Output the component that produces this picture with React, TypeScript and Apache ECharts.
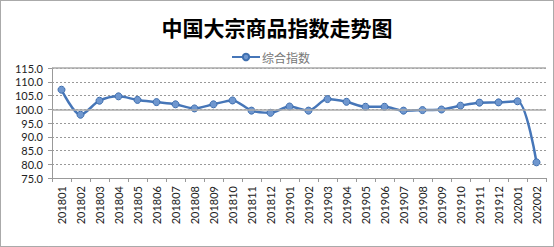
import React, { useEffect, useRef } from "react";
import * as echarts from "echarts";

const categories = [
  "201801", "201802", "201803", "201804", "201805", "201806", "201807", "201808", "201809", "201810", "201811", "201812",
  "201901", "201902", "201903", "201904", "201905", "201906", "201907", "201908", "201909", "201910", "201911", "201912",
  "202001", "202002",
];
const indexValues = [
  107.1, 98.0, 103.1, 104.7, 103.4, 102.6, 101.8, 100.3, 101.8, 103.2, 99.5, 98.7,
  101.0, 99.5, 103.7, 102.7, 100.9, 100.9, 99.5, 99.7, 99.9, 101.3, 102.4, 102.5,
  102.9, 80.7,
];
const seriesName = "综合指数";
const titleText = "中国大宗商品指数走势图";
const refLines = [100, 115];

export default function App() {
  const ref = useRef<HTMLDivElement>(null);
  useEffect(() => {
    if (!ref.current) return;
    const chart = echarts.init(ref.current, null, { renderer: "svg" });
    chart.setOption({
      animation: false,
      backgroundColor: "#ffffff",
      title: {
        text: titleText,
        left: "center",
        top: 11,
        textStyle: {
          fontFamily: "Noto Sans CJK SC",
          fontWeight: "bold",
          fontSize: 21,
          color: "#000",
        },
      },
      legend: {
        data: [seriesName],
        top: 46,
        left: 226,
        itemWidth: 28,
        itemHeight: 8,
        itemGap: 4,
        textStyle: { fontFamily: "Noto Sans CJK SC", fontSize: 12, color: "#777", padding: [0, 0, 0, -3] },
      },
      graphic: [
        {
          type: "rect",
          shape: { x: 0.5, y: 0.5, width: 553, height: 246 },
          style: { fill: "none", stroke: "#555", lineWidth: 1, lineDash: [1, 1] },
          silent: true,
        },
      ],
      grid: { left: 52, right: 8, top: 68, bottom: 69 },
      xAxis: {
        type: "category",
        data: categories,
        boundaryGap: true,
        axisLine: { lineStyle: { color: "#999" } },
        axisTick: { show: true, alignWithLabel: false, length: 4, lineStyle: { color: "#999" } },
        axisLabel: {
          rotate: 90,
          interval: 0,
          margin: 8,
          fontFamily: "Lato",
          fontSize: 11,
          color: "#222",
        },
      },
      yAxis: {
        type: "value",
        min: 75,
        max: 115,
        interval: 5,
        axisLine: { show: true, lineStyle: { color: "#999" } },
        axisTick: { show: true, length: 4, lineStyle: { color: "#999" } },
        axisLabel: {
          formatter: (v: number) => v.toFixed(1),
          fontFamily: "Lato",
          fontSize: 11,
          color: "#222",
          margin: 9,
        },
        splitLine: { show: true, lineStyle: { color: "#999", type: [2, 2], width: 1 } },
      },
      series: [
        {
          name: seriesName,
          type: "line",
          data: indexValues,
          smooth: 0.3,
          symbol: "circle",
          symbolSize: 7,
          lineStyle: { color: "#4676b8", width: 2.5 },
          itemStyle: { color: "#6f97cf", borderColor: "#3f6faf", borderWidth: 1 },
          markLine: {
            silent: true,
            symbol: "none",
            label: { show: false },
            lineStyle: { color: "#aaa", type: "solid", width: 1.5 },
            data: refLines.map((v) => ({ yAxis: v })),
          },
          z: 3,
        },
      ],
    });
    return () => chart.dispose();
  }, []);
  return (
    <div
      ref={ref}
      style={{ position: "fixed", left: 0, top: 0, width: 554, height: 247 }}
    />
  );
}
